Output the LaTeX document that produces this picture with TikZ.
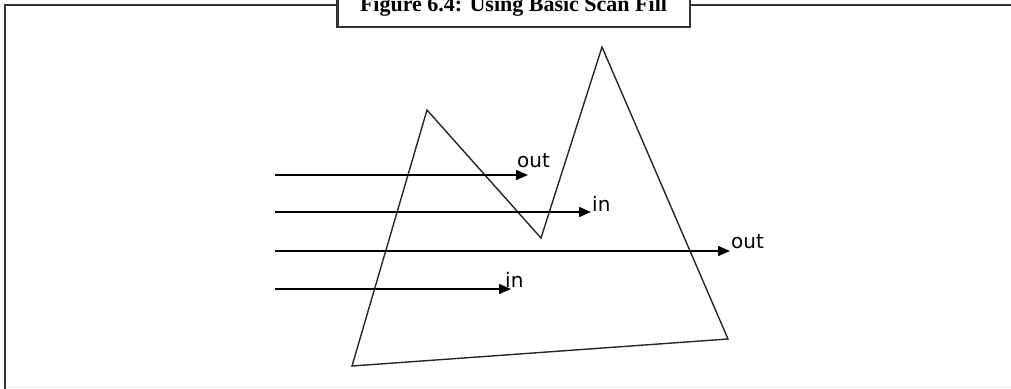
\documentclass[tikz,border=0pt]{standalone}
\usepackage{fontspec}
\setmainfont{Liberation Serif}
\newfontfamily\lblfont{DejaVu Sans}
\usetikzlibrary{arrows.meta}
\begin{document}
\begin{tikzpicture}[x=1pt,y=-1pt,
  frameline/.style={draw=black!80,line width=2.6pt},
  shapeline/.style={draw=black!85,line width=1.4pt,line join=miter},
  scanarrow/.style={draw=black,line width=1.4pt,-{Triangle[length=12pt,width=10pt]}},
  lbl/.style={font=\lblfont\fontsize{20}{22}\selectfont,inner sep=0pt,anchor=base west},
  titlefont/.style={font=\bfseries\fontsize{22}{24}\selectfont,inner sep=0pt,anchor=base}]
\useasboundingbox (0,0) rectangle (1011,388);
\begin{scope}
\clip (0,0) rectangle (1011,388);
% frame
\draw[draw=black!8,line width=1pt] (5,387.5) -- (1011,387.5);
\draw[frameline] (5,400) -- (5,5) -- (1015,5);
\draw[frameline,fill=white] (337.5,-10) rectangle (690,27);
\node[titlefont] (title) at (513.5,11) {Figure 6.4: Using Basic Scan Fill};
\end{scope}
% polygon
\coordinate (p1) at (427,110);
\coordinate (p2) at (541,238);
\coordinate (p3) at (602,47);
\coordinate (p4) at (728,339);
\coordinate (p5) at (352,366);
\draw[shapeline] (p1) -- (p2) -- (p3) -- (p4) -- (p5) -- cycle;
% scan lines
\coordinate (s1) at (275,175); \coordinate (e1) at (528,175);
\coordinate (s2) at (275,212); \coordinate (e2) at (591,212);
\coordinate (s3) at (275,251); \coordinate (e3) at (730,251);
\coordinate (s4) at (275,289); \coordinate (e4) at (511,289);
\draw[scanarrow] (s1) -- (e1);
\draw[scanarrow] (s2) -- (e2);
\draw[scanarrow] (s3) -- (e3);
\draw[scanarrow] (s4) -- (e4);
\node[lbl] (l1) at (517,167) {out};
\node[lbl] (l2) at (592,211) {in};
\node[lbl] (l3) at (731,248) {out};
\node[lbl] (l4) at (505,287) {in};
\end{tikzpicture}
\end{document}
